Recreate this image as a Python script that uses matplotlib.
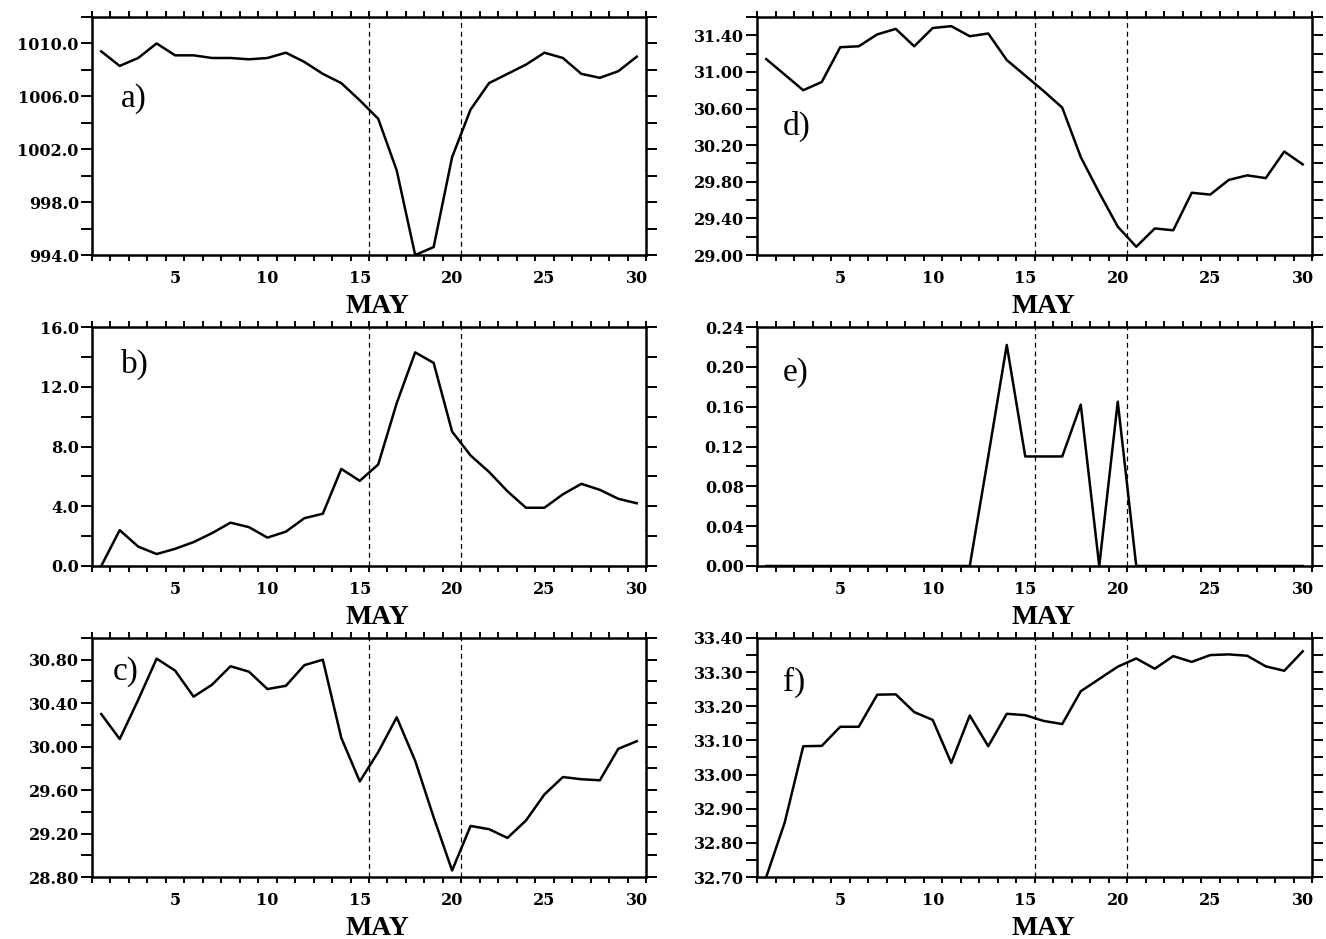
import numpy as np
import matplotlib
matplotlib.use("Agg")
import matplotlib.pyplot as plt
from matplotlib.ticker import MultipleLocator, FixedLocator

days = list(range(1, 31))

pressure = [1009.4, 1008.3, 1008.9, 1010.0, 1009.1, 1009.1, 1008.9, 1008.9, 1008.8, 1008.9,
            1009.3, 1008.6, 1007.7, 1007.0, 1005.7, 1004.3, 1000.4, 994.0, 994.6, 1001.4,
            1005.0, 1007.0, 1007.7, 1008.4, 1009.3, 1008.9, 1007.7, 1007.4, 1007.9, 1009.0]

wind = [0.0, 2.4, 1.3, 0.8, 1.15, 1.6, 2.2, 2.9, 2.6, 1.9,
        2.3, 3.2, 3.5, 6.5, 5.7, 6.8, 10.9, 14.3, 13.6, 9.0,
        7.4, 6.3, 5.0, 3.9, 3.9, 4.8, 5.5, 5.1, 4.5, 4.2]

sst_c = [30.30, 30.07, 30.43, 30.81, 30.70, 30.46, 30.57, 30.74, 30.69, 30.53,
         30.56, 30.75, 30.80, 30.08, 29.68, 29.95, 30.27, 29.87, 29.35, 28.86,
         29.27, 29.24, 29.16, 29.32, 29.56, 29.72, 29.70, 29.69, 29.98, 30.05]

temp_d = [31.14, 30.97, 30.80, 30.89, 31.27, 31.28, 31.41, 31.47, 31.28, 31.48,
          31.50, 31.39, 31.42, 31.13, 30.96, 30.79, 30.61, 30.07, 29.68, 29.31,
          29.09, 29.29, 29.27, 29.68, 29.66, 29.82, 29.87, 29.84, 30.13, 29.99]

rain_e = [0, 0, 0, 0, 0, 0, 0, 0, 0, 0,
          0, 0, 0.11, 0.222, 0.11, 0.11, 0.11, 0.162, 0.0, 0.165,
          0, 0, 0, 0, 0, 0, 0, 0, 0, 0]

sal_f = [32.70, 32.86, 33.083, 33.084, 33.14, 33.14, 33.234, 33.235, 33.183, 33.16,
         33.034, 33.173, 33.083, 33.178, 33.174, 33.157, 33.148, 33.244, 33.28, 33.316,
         33.34, 33.31, 33.347, 33.33, 33.35, 33.352, 33.348, 33.317, 33.304, 33.361]

xlabels = [5, 10, 15, 20, 25, 30]
event_lines = [15.5, 20.5]

panels = [
    # (data, ylim, label step, minor step, fmt, panel label, label pos)
    (pressure, (994.0, 1012.0), 4.0, 2.0, "{:.1f}", "a)", (0.052, 0.623)),
    (wind, (0.0, 16.0), 4.0, 2.0, "{:.1f}", "b)", (0.053, 0.81)),
    (sst_c, (28.8, 31.0), 0.4, 0.2, "{:.2f}", "c)", (0.038, 0.824)),
    (temp_d, (29.0, 31.6), 0.4, 0.2, "{:.2f}", "d)", (0.046, 0.504)),
    (rain_e, (0.0, 0.24), 0.04, 0.02, "{:.2f}", "e)", (0.046, 0.774)),
    (sal_f, (32.7, 33.4), 0.1, 0.05, "{:.2f}", "f)", (0.046, 0.78)),
]

W, H = 1326, 939
fig = plt.figure(figsize=(W / 100, H / 100), dpi=100)

col_x = [92, 757]
col_w = [554, 555]
row_top = [17, 327, 638]
row_bot = [255, 566, 877]

tickfont = dict(family="DejaVu Serif", weight="bold", size=11.5)

for i, (data, ylim, step, mstep, fmt, plabel, lpos) in enumerate(panels):
    col = i // 3
    row = i % 3
    left = col_x[col] / W
    width = col_w[col] / W
    bottom = 1 - row_bot[row] / H
    height = (row_bot[row] - row_top[row]) / H
    ax = fig.add_axes([left, bottom, width, height])

    ax.plot(days, data, color="black", lw=1.8, clip_on=True)
    for xv in event_lines:
        ax.axvline(xv, color="black", lw=0.9, ls=(0, (4, 3)))

    ax.set_xlim(0.5, 30.5)
    ax.set_ylim(*ylim)

    # x: labels at integers (no tick marks), ticks at half days
    ax.xaxis.set_major_locator(FixedLocator(xlabels))
    ax.xaxis.set_minor_locator(MultipleLocator(1.0, offset=0.5))
    ax.set_xticklabels([str(v) for v in xlabels], **tickfont)
    ax.tick_params(axis="x", which="major", length=0, pad=11)
    ax.tick_params(axis="x", which="minor", length=4.3, width=1.4, direction="out",
                   top=True, bottom=True)

    # y: labels every step, ticks every minor step
    n = int(round((ylim[1] - ylim[0]) / step))
    yt = [ylim[0] + k * step for k in range(n + 1) if ylim[0] + k * step <= ylim[1] + 1e-9]
    ax.yaxis.set_major_locator(FixedLocator(yt))
    ax.set_yticklabels([fmt.format(v) for v in yt], **tickfont)
    nm = int(round((ylim[1] - ylim[0]) / mstep))
    ymt = [ylim[0] + k * mstep for k in range(nm + 1)]
    ax.yaxis.set_minor_locator(FixedLocator(ymt))
    ax.tick_params(axis="y", which="both", length=8, width=1.4, direction="out",
                   left=True, right=True, pad=1.5)

    for sp in ax.spines.values():
        sp.set_linewidth(1.8)

    ax.text(0.516, -0.165, "MAY", transform=ax.transAxes, ha="center", va="top",
            family="Liberation Serif", weight="bold", size=20)
    ax.text(lpos[0], lpos[1], plabel, transform=ax.transAxes, ha="left",
            va="baseline", family="Liberation Serif", size=24)

fig.savefig("out.png", dpi=100)
